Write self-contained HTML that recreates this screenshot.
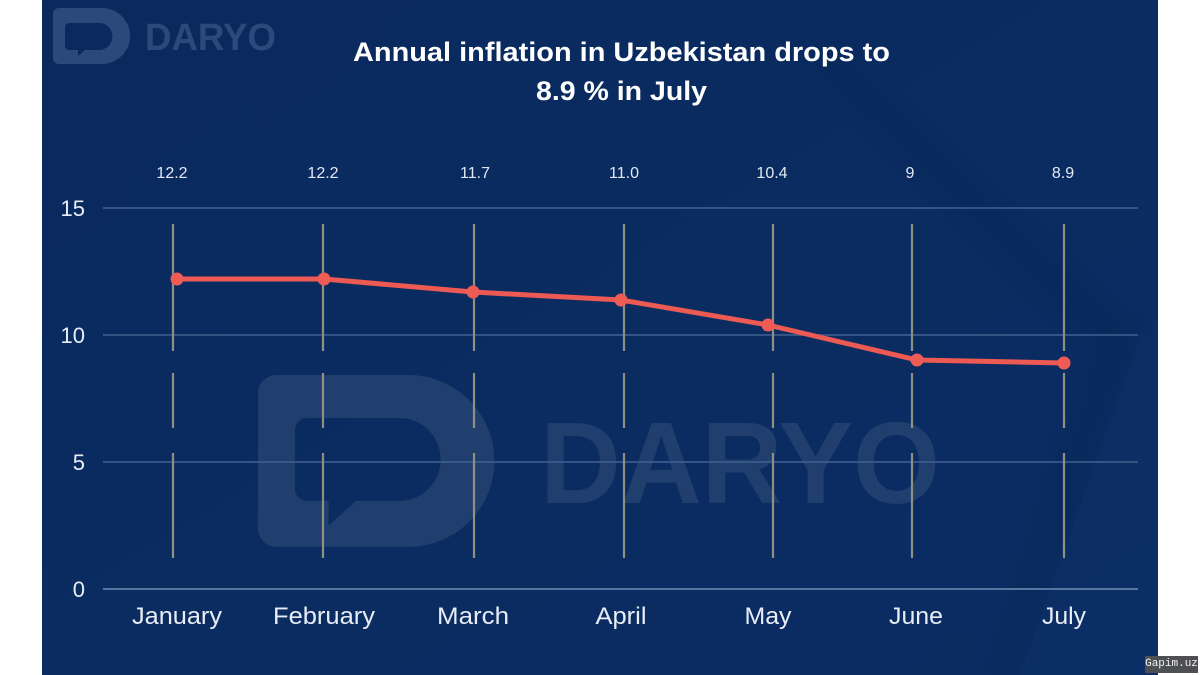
<!DOCTYPE html>
<html>
<head>
<meta charset="utf-8">
<style>
  html,body{margin:0;padding:0;background:#ffffff;}
  body{width:1200px;height:675px;overflow:hidden;position:relative;}
  svg{position:absolute;left:0;top:0;display:block;}
  .gap{position:absolute;left:1145px;top:656px;width:53px;height:17px;background:#4d4f52;color:#f2f2f2;
       font-family:"Liberation Mono",monospace;font-size:11px;line-height:17px;text-align:center;}
</style>
</head>
<body>
<svg width="1200" height="675" viewBox="0 0 1200 675" xmlns="http://www.w3.org/2000/svg">
  <defs>
    <linearGradient id="bg" x1="0" y1="0" x2="1" y2="1">
      <stop offset="0" stop-color="#0a2a5e"/>
      <stop offset="1" stop-color="#0b2d63"/>
    </linearGradient>
    <filter id="blur"><feGaussianBlur stdDeviation="8"/></filter>
  </defs>
  <!-- panel -->
  <rect x="42" y="0" width="1116" height="675" fill="url(#bg)"/>
  <!-- subtle background shapes -->
  <polygon points="830,50 1138,335 1015,675 985,675 1095,345 800,50" fill="#06204c" opacity="0.25" filter="url(#blur)"/>
  <polygon points="1140,335 1158,320 1158,675 1020,675" fill="#0e3470" opacity="0.25"/>

  <!-- small top-left logo -->
  <g transform="translate(53,8)" fill="#2b4a7a">
    <path fill-rule="evenodd" d="M6,0 H49 A28,28 0 0 1 49,56 H6 A6,6 0 0 1 0,50 V6 A6,6 0 0 1 6,0 Z
      M16,15 H46 A13.5,13.5 0 0 1 46,42 H32 L25,48 V42 H16 A4,4 0 0 1 12,38 V19 A4,4 0 0 1 16,15 Z"/>
  </g>
  <text x="145" y="50" font-family="Liberation Sans, sans-serif" font-weight="bold" font-size="38" fill="#2b4a7a" textLength="131" lengthAdjust="spacingAndGlyphs">DARYO</text>

  <!-- big watermark -->
  <g transform="translate(258,375) scale(3.07)" fill="#203f6f">
    <path fill-rule="evenodd" d="M6,0 H49 A28,28 0 0 1 49,56 H6 A6,6 0 0 1 0,50 V6 A6,6 0 0 1 6,0 Z
      M16,14 H46 A13.5,13.5 0 0 1 46,41 H32 L23,49 V41 H16 A4,4 0 0 1 12,37 V18 A4,4 0 0 1 16,14 Z"/>
  </g>
  <text x="540" y="503" font-family="Liberation Sans, sans-serif" font-weight="bold" font-size="116" fill="#203f6f" textLength="400" lengthAdjust="spacingAndGlyphs">DARYO</text>

  <!-- title -->
  <text x="353" y="61" font-family="Liberation Sans, sans-serif" font-weight="bold" font-size="27" fill="#ffffff" textLength="537" lengthAdjust="spacingAndGlyphs">Annual inflation in Uzbekistan drops to</text>
  <text x="536" y="100" font-family="Liberation Sans, sans-serif" font-weight="bold" font-size="27" fill="#ffffff" textLength="171" lengthAdjust="spacingAndGlyphs">8.9 % in July</text>

  <!-- gridlines -->
  <g stroke="#41618f" stroke-width="1.5">
    <line x1="103" y1="208" x2="1138" y2="208"/>
    <line x1="103" y1="335" x2="1138" y2="335"/>
    <line x1="103" y1="462" x2="1138" y2="462"/>
    <line x1="103" y1="589" x2="1138" y2="589" stroke="#5875a0" stroke-width="2"/>
  </g>

  <!-- y labels -->
  <g font-family="Liberation Sans, sans-serif" font-size="22" fill="#e8edf5" text-anchor="end">
    <text x="85" y="216">15</text>
    <text x="85" y="343">10</text>
    <text x="85" y="470">5</text>
    <text x="85" y="597">0</text>
  </g>

  <!-- vertical segmented lines -->
  <g stroke="#8e9180" stroke-width="2.2">
    <line x1="173" y1="224" x2="173" y2="351"/><line x1="173" y1="373" x2="173" y2="428"/><line x1="173" y1="453" x2="173" y2="558"/>
    <line x1="323" y1="224" x2="323" y2="351"/><line x1="323" y1="373" x2="323" y2="428"/><line x1="323" y1="453" x2="323" y2="558"/>
    <line x1="474" y1="224" x2="474" y2="351"/><line x1="474" y1="373" x2="474" y2="428"/><line x1="474" y1="453" x2="474" y2="558"/>
    <line x1="624" y1="224" x2="624" y2="351"/><line x1="624" y1="373" x2="624" y2="428"/><line x1="624" y1="453" x2="624" y2="558"/>
    <line x1="773" y1="224" x2="773" y2="351"/><line x1="773" y1="373" x2="773" y2="428"/><line x1="773" y1="453" x2="773" y2="558"/>
    <line x1="912" y1="224" x2="912" y2="351"/><line x1="912" y1="373" x2="912" y2="428"/><line x1="912" y1="453" x2="912" y2="558"/>
    <line x1="1064" y1="224" x2="1064" y2="351"/><line x1="1064" y1="373" x2="1064" y2="428"/><line x1="1064" y1="453" x2="1064" y2="558"/>
  </g>

  <!-- data labels -->
  <g font-family="Liberation Sans, sans-serif" font-size="16" fill="#e3e9f3" text-anchor="middle">
    <text x="172" y="178">12.2</text>
    <text x="323" y="178">12.2</text>
    <text x="475" y="178">11.7</text>
    <text x="624" y="178">11.0</text>
    <text x="772" y="178">10.4</text>
    <text x="910" y="178">9</text>
    <text x="1063" y="178">8.9</text>
  </g>

  <!-- series -->
  <polyline points="177,279 324,279 473,292 621,300 768,325 917,360 1064,363" fill="none" stroke="#ec5a53" stroke-width="5" stroke-linejoin="round" stroke-linecap="round"/>
  <g fill="#ef5c55">
    <circle cx="177" cy="279" r="6.5"/>
    <circle cx="324" cy="279" r="6.5"/>
    <circle cx="473" cy="292" r="6.5"/>
    <circle cx="621" cy="300" r="6.5"/>
    <circle cx="768" cy="325" r="6.5"/>
    <circle cx="917" cy="360" r="6.5"/>
    <circle cx="1064" cy="363" r="6.5"/>
  </g>

  <!-- month labels -->
  <g font-family="Liberation Sans, sans-serif" font-size="24" fill="#e8edf5" text-anchor="middle">
    <text x="177" y="624" textLength="90" lengthAdjust="spacingAndGlyphs">January</text>
    <text x="324" y="624" textLength="102" lengthAdjust="spacingAndGlyphs">February</text>
    <text x="473" y="624" textLength="72" lengthAdjust="spacingAndGlyphs">March</text>
    <text x="621" y="624" textLength="51" lengthAdjust="spacingAndGlyphs">April</text>
    <text x="768" y="624" textLength="47" lengthAdjust="spacingAndGlyphs">May</text>
    <text x="916" y="624" textLength="54" lengthAdjust="spacingAndGlyphs">June</text>
    <text x="1064" y="624" textLength="44" lengthAdjust="spacingAndGlyphs">July</text>
  </g>
</svg>
<div class="gap">Gapim.uz</div>
</body>
</html>
